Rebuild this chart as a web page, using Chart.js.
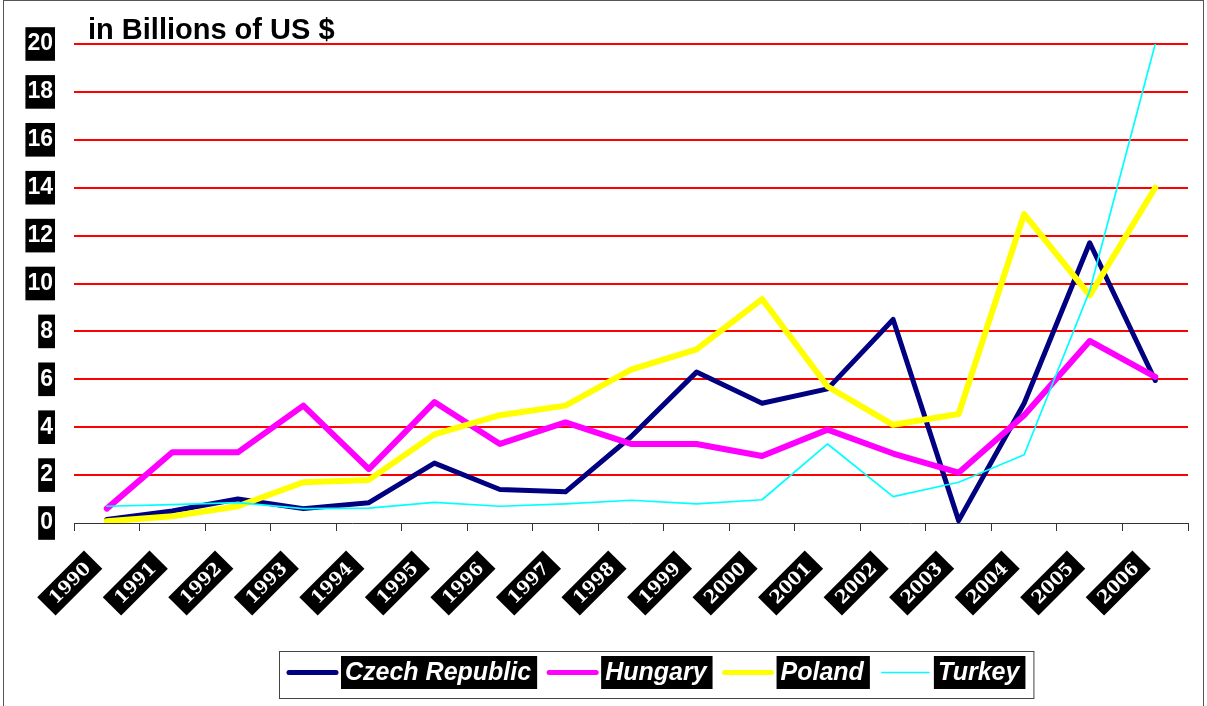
<!DOCTYPE html>
<html>
<head>
<meta charset="utf-8">
<title>FDI inflows</title>
<script src="https://cdn.jsdelivr.net/npm/chart.js@4.4.1/dist/chart.umd.min.js"></script>
<style>
  html, body { margin: 0; padding: 0; background: #fff; }
  #wrap { width: 1207px; height: 706px; position: relative; }
</style>
</head>
<body>
<div id="wrap"><canvas id="chart" width="1207" height="706"></canvas></div>
<script>
// years on the x axis
const years = ["1990", "1991", "1992", "1993", "1994", "1995", "1996", "1997", "1998",
  "1999", "2000", "2001", "2002", "2003", "2004", "2005", "2006"];

// values, billions of US $
const czech = [0.15, 0.5, 1.0, 0.6, 0.85, 2.5, 1.4, 1.3, 3.6, 6.3, 5.0, 5.6, 8.5, 0.1, 5.0, 11.7, 5.95];
const hungary = [0.6, 2.95, 2.95, 4.9, 2.25, 5.05, 3.3, 4.2, 3.3, 3.3, 2.8, 3.9, 2.9, 2.1, 4.5, 7.6, 6.1];
const poland = [0.07, 0.28, 0.7, 1.7, 1.8, 3.7, 4.5, 4.9, 6.4, 7.25, 9.35, 5.7, 4.1, 4.55, 12.9, 9.5, 14.0];
const turkey = [0.7, 0.77, 0.85, 0.6, 0.62, 0.86, 0.7, 0.8, 0.95, 0.8, 0.97, 3.3, 1.1, 1.7, 2.85, 9.7, 20.0];

const yMin = 0, yMax = 20, yStep = 2;
const unitTitle = "in Billions of US $";

// excel-style extras: title over the plot, boxed year labels, boxed legend, frame
const decorations = {
  id: "decorations",
  afterDraw(chart) {
    const ctx = chart.ctx;
    const area = chart.chartArea;
    const x = chart.scales.x;

    ctx.save();

    // outer frame
    ctx.strokeStyle = "#555";
    ctx.lineWidth = 1;
    ctx.strokeRect(3.5, 0.5, 1200, 720);

    // unit title
    ctx.fillStyle = "#000";
    ctx.font = "bold 29px 'Liberation Sans', Arial, sans-serif";
    ctx.textBaseline = "alphabetic";
    ctx.textAlign = "left";
    ctx.fillText(unitTitle, area.left + 14, area.top - 5);

    // year labels: white on black, turned 45 degrees
    ctx.font = "bold 18px 'DejaVu Serif', serif";
    ctx.textAlign = "center";
    ctx.textBaseline = "middle";
    years.forEach((label, i) => {
      const px = x.getPixelForTick(i);
      const w = ctx.measureText(label).width + 16;
      const h = 26;
      ctx.save();
      ctx.translate(px - 37, area.bottom + 60);
      ctx.rotate(-Math.PI / 4);
      ctx.fillStyle = "#000";
      ctx.fillRect(-w / 2, -h / 2, w, h);
      ctx.fillStyle = "#fff";
      ctx.fillText(label, 0, 1);
      ctx.restore();
    });

    // legend
    const top = 651, boxH = 47;
    ctx.font = "italic bold 25px 'Liberation Sans', Arial, sans-serif";
    ctx.textAlign = "left";
    let lx = 287;
    const items = chart.data.datasets.slice().sort((a, b) => b.order - a.order);
    const widths = items.map((ds) => ctx.measureText(ds.label).width + 10);
    const total = items.length * 64 + widths.reduce((s, w) => s + w, 0) - 10 + 16;
    ctx.strokeStyle = "#444";
    ctx.lineWidth = 1;
    ctx.strokeRect(279.5, top + 0.5, total, boxH);
    items.forEach((ds, i) => {
      const cy = top + boxH / 2 - 2;
      ctx.strokeStyle = ds.borderColor;
      ctx.lineWidth = Math.min(ds.borderWidth, 5);
      ctx.lineCap = "round";
      ctx.beginPath();
      ctx.moveTo(lx + 2, cy);
      ctx.lineTo(lx + 49, cy);
      ctx.stroke();
      const bx = lx + 54;
      ctx.fillStyle = "#000";
      ctx.fillRect(bx, top + 5, widths[i], 33);
      ctx.fillStyle = "#fff";
      ctx.fillText(ds.label, bx + 4, cy + 1);
      lx = bx + widths[i] + 10;
    });

    ctx.restore();
  },
};

new Chart(document.getElementById("chart"), {
  type: "line",
  data: {
    labels: years,
    datasets: [
      { label: "Czech Republic", data: czech, borderColor: "#000080", borderWidth: 5, order: 4 },
      { label: "Hungary", data: hungary, borderColor: "#ff00ff", borderWidth: 6, order: 3 },
      { label: "Poland", data: poland, borderColor: "#ffff00", borderWidth: 6, order: 2 },
      { label: "Turkey", data: turkey, borderColor: "#00ffff", borderWidth: 1.7, order: 1 },
    ],
  },
  options: {
    responsive: false,
    animation: false,
    layout: { padding: { left: 0, top: 44, right: 19, bottom: 0 } },
    elements: {
      point: { radius: 0, hoverRadius: 0 },
      line: { tension: 0, fill: false, borderJoinStyle: "round", borderCapStyle: "round" },
    },
    plugins: {
      legend: { display: false },
      tooltip: { enabled: false },
      title: { display: false },
    },
    scales: {
      x: {
        offset: true,
        grid: {
          display: true,
          drawOnChartArea: false,
          drawTicks: true,
          tickLength: 8,
          color: "#333",
          offset: true,
        },
        border: { display: true, color: "#333", width: 1 },
        ticks: { display: false },
        afterFit(scale) {
          scale.height = 706 - 523;
          scale.paddingLeft = 0;
          scale.paddingRight = 0;
        },
      },
      y: {
        min: yMin,
        max: yMax,
        grid: {
          drawTicks: false,
          lineWidth: 2,
          color: (c) => (c.tick && c.tick.value === 0 ? "rgba(0,0,0,0)" : "#ff0000"),
        },
        border: { display: false },
        ticks: {
          stepSize: yStep,
          padding: 21,
          color: "#fff",
          font: { family: "'Liberation Sans', Arial, sans-serif", size: 23, weight: "bold" },
          showLabelBackdrop: true,
          backdropColor: "#000",
          backdropPadding: { top: 3, bottom: 3, left: 2, right: 2 },
        },
        afterFit(scale) {
          scale.width = 74;
        },
      },
    },
  },
  plugins: [decorations],
});
</script>
</body>
</html>
